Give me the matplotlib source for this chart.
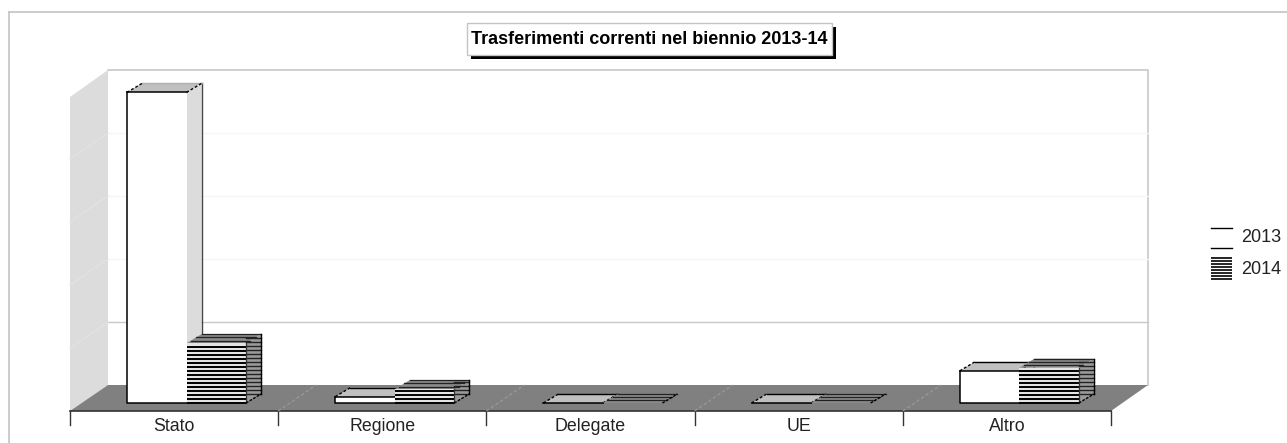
import matplotlib
matplotlib.use("Agg")
import matplotlib.pyplot as plt
from matplotlib.patches import Polygon, Rectangle

plt.rcParams["font.family"] = ["Liberation Sans", "DejaVu Sans"]

TITLE = "Trasferimenti correnti nel biennio 2013-14"
CATEGORIES = ["Stato", "Regione", "Delegate", "UE", "Altro"]
SERIES_NAMES = ["2013", "2014"]
VALUES_2013 = [4.93, 0.10, 0.0, 0.0, 0.51]
VALUES_2014 = [0.95, 0.22, 0.0, 0.0, 0.56]
GRID_VALUES = [1, 2, 3, 4, 5]

# geometria in pixel dell'immagine
FRONT_L, FRONT_R, FRONT_Y = 70, 1111, 411
BACK_L, BACK_R, BACK_Y = 108, 1148, 385
BAR_BASE = 403
PX_PER_UNIT = 63
BAR_W = 59.5
DX, DY = 15, -9
STEP = (FRONT_R - FRONT_L) / len(CATEGORIES)
FIRST_SPLIT = 186.5


def poly(ax, pts, fc, z, ec="none", lw=0):
    ax.add_patch(Polygon(pts, closed=True, fc=fc, ec=ec, lw=lw, zorder=z))


def righe(ax, x0, x1, y0, y1, z, passo=4.0, lw=1.1):
    y = y1 - 0.5
    while y >= y0:
        ax.plot([x0, x1], [y, y], color="black", lw=lw, zorder=z, solid_capstyle="butt")
        y -= passo


def barra(ax, x0, valore, z, rigata):
    x1 = x0 + BAR_W
    top = BAR_BASE - valore * PX_PER_UNIT
    # faccia superiore, laterale, frontale
    top_pts = [(x0, top), (x1, top), (x1 + DX, top + DY), (x0 + DX, top + DY)]
    side_pts = [(x1, top), (x1 + DX, top + DY), (x1 + DX, BAR_BASE + DY), (x1, BAR_BASE)]
    if rigata:
        poly(ax, side_pts, "#9a9a9a", z)
        poly(ax, top_pts, "#8a8a8a", z)
        poly(ax, [(x0, top), (x1, top), (x1, BAR_BASE), (x0, BAR_BASE)], "#e4e4e4", z)
        righe(ax, x0, x1, top, BAR_BASE, z + 0.1, lw=1.4)
        # righe di lato e sopra
        y = BAR_BASE - 0.5
        while y >= top:
            if y + DY > top + DY:
                ax.plot([x1, x1 + DX], [y + DY, y + DY], color="#222222", lw=1.0, zorder=z + 0.1)
            y -= 4.0
        ytop = top + DY
        while ytop < top:
            frac = (ytop - top) / DY
            ax.plot([x0 + DX * frac, x1 + DX * frac], [ytop, ytop], color="#222222", lw=0.9, zorder=z + 0.1)
            ytop += 3.2
        ax.plot([x1, x1], [top, BAR_BASE], color="#333333", lw=0.9, zorder=z + 0.2)
        ax.plot([x1 + DX, x1 + DX], [top + DY, BAR_BASE + DY], color="black", lw=1.0, zorder=z + 0.2)
        ax.plot([x1, x1 + DX], [BAR_BASE, BAR_BASE + DY], color="black", lw=1.0, ls=(0, (2, 1)), zorder=z + 0.2)
    else:
        poly(ax, side_pts, "#dcdcdc", z)
        poly(ax, top_pts, "#c0c0c0", z)
        poly(ax, [(x0, top), (x1, top), (x1, BAR_BASE), (x0, BAR_BASE)], "white", z)
        ax.plot([x0, x0, x1], [top, BAR_BASE, BAR_BASE], color="black", lw=1.1, zorder=z + 0.2)
        ax.plot([x0 + DX, x1 + DX], [top + DY, top + DY], color="black" if valore < 1 else "#b0b0b0",
                lw=1.0, zorder=z + 0.2)
        ax.plot([x1 + DX, x1 + DX], [top + DY, BAR_BASE + DY], color="#444444", lw=1.0, zorder=z + 0.05)
        ax.plot([x0, x0 + DX], [top, top + DY], color="black", lw=1.0, ls=(0, (2, 1.5)), zorder=z + 0.2)
        ax.plot([x1, x1 + DX], [top, top + DY], color="black", lw=1.0, ls=(0, (2, 1.5)), zorder=z + 0.2)
        if valore > 0.02:
            ax.plot([x0, x1], [top, top], color="black", lw=1.1, zorder=z + 0.2)


def main():
    fig = plt.figure(figsize=(12.87, 4.43), dpi=100)
    ax = fig.add_axes([0, 0, 1, 1])
    ax.set_xlim(0, 1287)
    ax.set_ylim(443, 0)
    ax.axis("off")

    # cornice
    ax.plot([8.5, 8.5], [443, 11.5], color="#c4c4c4", lw=1.2, zorder=1)
    ax.plot([8.5, 1287], [11.5, 11.5], color="#c4c4c4", lw=1.2, zorder=1)

    # parete sinistra, fondo e pavimento
    poly(ax, [(FRONT_L, 97), (BACK_L, 70), (BACK_L, BACK_Y), (FRONT_L, FRONT_Y)], "#dcdcdc", 2)
    ax.plot([BACK_L, BACK_R, BACK_R], [70, 70, BACK_Y], color="#c8c8c8", lw=1.2, zorder=2)
    for g in GRID_VALUES[:-1]:
        y = BACK_Y - g * PX_PER_UNIT
        colore = "#c8c8c8" if g == 1 else "#f6f6f6"
        ax.plot([BACK_L, BACK_R], [y, y], color=colore, lw=1.0, zorder=2)
        ax.plot([FRONT_L, BACK_L], [y + 26, y], color="#e2e2e2", lw=1.0, zorder=3)
    poly(ax, [(FRONT_L, FRONT_Y), (BACK_L, BACK_Y), (BACK_R, BACK_Y), (FRONT_R, FRONT_Y)], "#808080", 3)
    ax.plot([FRONT_L, FRONT_R], [FRONT_Y, FRONT_Y], color="#333333", lw=1.2, zorder=4)

    for i in range(len(CATEGORIES) + 1):
        x = FRONT_L + i * STEP
        ax.plot([x, x], [FRONT_Y, 425], color="#333333", lw=1.0, zorder=4)
        if 0 < i < len(CATEGORIES):
            ax.plot([x, x + BACK_L - FRONT_L], [FRONT_Y, BACK_Y], color="#9c9c9c", lw=0.8,
                    ls=(0, (3, 2)), zorder=4)

    # barre
    for i, cat in enumerate(CATEGORIES):
        centro = FIRST_SPLIT + i * STEP
        barra(ax, centro - BAR_W, VALUES_2013[i], 5 + i, False)
        barra(ax, centro, VALUES_2014[i], 5.5 + i, True)
        ax.text(FRONT_L + (i + 0.5) * STEP, 431, cat, ha="center", va="baseline", fontsize=12.8,
                color="#222222", zorder=20)

    # titolo
    ax.add_patch(Rectangle((471, 27), 365, 32, fc="black", ec="none", zorder=20))
    ax.add_patch(Rectangle((467, 23), 365, 32, fc="white", ec="#c4c4c4", lw=1, zorder=21))
    ax.text(649.5, 39.5, TITLE, ha="center", va="center", fontsize=13, fontweight="bold",
            color="black", zorder=22)

    # legenda
    ax.plot([1211, 1232], [227.5, 227.5], color="black", lw=1.0, zorder=20)
    ax.plot([1211, 1232], [248, 248], color="black", lw=1.0, zorder=20)
    righe(ax, 1211, 1232, 257, 279, 20, passo=3.0, lw=1.2)
    ax.text(1241, 242, SERIES_NAMES[0], ha="left", va="baseline", fontsize=13, color="#222222", zorder=20)
    ax.text(1241, 274, SERIES_NAMES[1], ha="left", va="baseline", fontsize=13, color="#222222", zorder=20)

    fig.savefig("out.png", dpi=100)


if __name__ == "__main__":
    main()
